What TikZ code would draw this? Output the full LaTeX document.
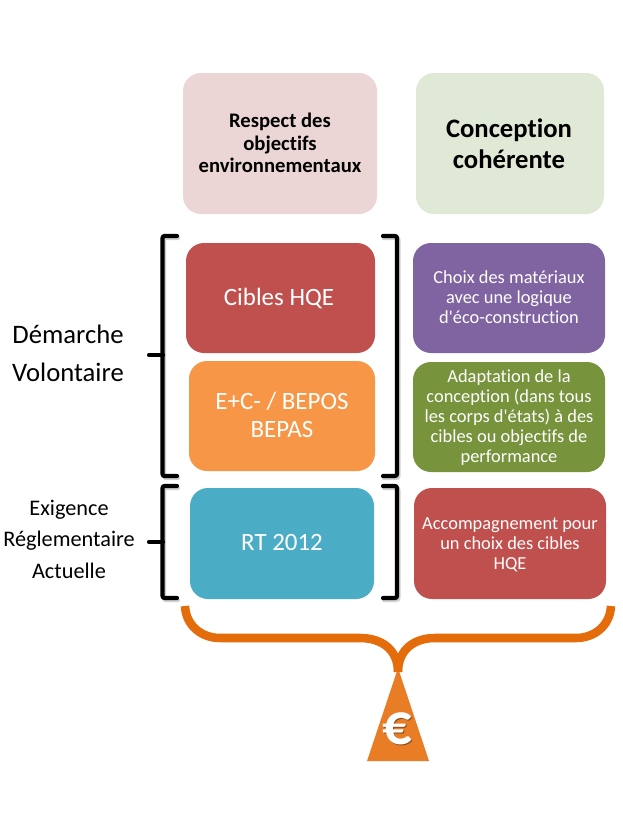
\documentclass[tikz,border=0pt]{standalone}
\usepackage{fontspec}
\setmainfont{Carlito}[Ligatures=NoCommon]
\definecolor{cpink}{HTML}{EBD6D5}
\definecolor{cpale}{HTML}{E0E9D5}
\definecolor{cred}{HTML}{C0504D}
\definecolor{corange}{HTML}{F79646}
\definecolor{cblue}{HTML}{4BACC6}
\definecolor{cpurple}{HTML}{8064A2}
\definecolor{cgreen}{HTML}{77933C}
\definecolor{cbrace}{HTML}{E46C0A}
\definecolor{ctri}{HTML}{E87D26}
\tikzset{
  x=0.75pt,y=-0.75pt,
  card/.style={rounded corners=13.5pt},
  lbl/.style={align=center,text=white},
  big/.style={font=\fontsize{18.7}{21}\selectfont},
  small/.style={font=\fontsize{13.8}{15}\selectfont},
  brk/.style={line width=3.1pt,black,line join=round,line cap=round,rounded corners=1.5pt},
  brkshadow/.style={line width=3.1pt,black!18,line join=round,line cap=round,rounded corners=1.5pt},
  bracestroke/.style={line width=6.4pt,cbrace},
}
\newcommand{\card}[6]{% name,x0,y0,x1,y1,color
  \fill[card,#6] (#2,#3) rectangle (#4,#5);
  \coordinate (#1) at ({(#2+#4)/2},{(#3+#5)/2});
}
\newcommand{\lbracket}[3]{% top, bottom, mid
  \draw[brkshadow] (178,#1+2) -- (164,#1+2) -- (164,#2+2) -- (178,#2+2);
  \draw[brk] (177,#1) -- (162.5,#1) -- (162.5,#2) -- (177,#2);
  \draw[brk] (149,#3) -- (163,#3);
}
\newcommand{\rbracket}[2]{% top, bottom
  \draw[brkshadow] (384,#1+2) -- (398.5,#1+2) -- (398.5,#2+2) -- (384,#2+2);
  \draw[brk] (383,#1) -- (397,#1) -- (397,#2) -- (383,#2);
}
\begin{document}
\begin{tikzpicture}
\useasboundingbox[fill=white] (0,0) rectangle (623,828);
\card{a}{183}{73}{377}{214}{cpink}
\card{b}{416}{73}{604}{214}{cpale}
\card{c}{186}{243}{375}{353}{cred}
\card{d}{189}{361}{375}{471}{corange}
\card{e}{190}{488}{374}{599}{cblue}
\card{f}{413}{243}{605}{353}{cpurple}
\card{g}{413}{362}{605}{472}{cgreen}
\card{h}{414}{488}{606}{599}{cred}
\node[align=center,font=\fontsize{15.5}{17}\selectfont\bfseries] (ta) at (280,143) {Respect des\\objectifs\\environnementaux};
\node[align=center,font=\fontsize{20}{23}\selectfont\bfseries] (tb) at (509,143.5) {Conception\\cohérente};
\node[lbl,big] (tc) at (279,298) {Cibles HQE};
\node[lbl,big] (td) at (282,415) {E+C- / BEPOS\\BEPAS};
\node[lbl,big] (te) at (282,542) {RT 2012};
\node[lbl,small] (tf) at (509,297) {Choix des matériaux\\avec une logique\\d\textquotesingle éco-construction};
\node[lbl,small] (tg) at (509,418) {Adaptation de la\\conception (dans tous\\les corps d\textquotesingle états) à des\\cibles ou objectifs de\\performance};
\node[lbl,small] (th) at (510,545) {Accompagnement pour\\un choix des cibles\\HQE};
\node[align=center,font=\fontsize{20}{28.5}\selectfont] (dv) at (68,353) {Démarche\\Volontaire};
\node[align=center,font=\fontsize{16.7}{23.6}\selectfont] (ex) at (69,539) {Exigence\\Réglementaire\\Actuelle};
\lbracket{236}{476}{355}
\rbracket{236}{476}
\lbracket{486}{598}{542}
\rbracket{486}{598}
% base triangle
\fill[ctri] (398,668) -- (429,761) -- (367,761) -- cycle;
% orange double brace
\draw[bracestroke] (185,606) .. controls (186,626) and (202,638) .. (220,638) -- (360,638) .. controls (382,638) and (398,650) .. (398,672);
\draw[bracestroke] (611,606) .. controls (610,626) and (594,638) .. (576,638) -- (435,638) .. controls (414,638) and (398,650) .. (398,672);
\node[text=ctri!60!black,font=\fontsize{44}{44}\selectfont\bfseries] at (398,730) {€};
\node[text=white,font=\fontsize{44}{44}\selectfont\bfseries] (eu) at (397,729) {€};
\end{tikzpicture}
\end{document}
